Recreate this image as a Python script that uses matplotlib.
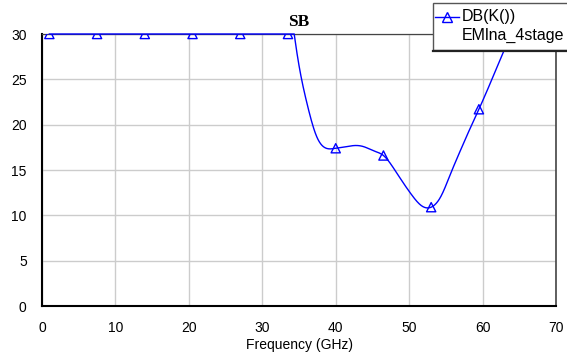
import numpy as np
import matplotlib

matplotlib.use("Agg")
import matplotlib.pyplot as plt  # noqa: E402
from matplotlib.patches import Rectangle  # noqa: E402
from matplotlib.lines import Line2D  # noqa: E402

# ---------- Data ----------
# Sweep 1..66 GHz in 1.3 GHz steps; a marker sits on every 5th point.
freq_ghz = np.round(np.arange(1.0, 66.01, 1.3), 2)
# Up to 33.5 GHz and above ~63 GHz the trace is off the 30 dB scale:
# those entries are estimates, the plot holds them at the 30 dB limit.
k_db = [
    45.0, 45.0, 45.0, 45.0, 45.0, 45.0, 45.0, 45.0, 45.0, 45.0,
    45.0, 45.0, 45.0, 45.0, 45.0, 45.0, 45.0, 45.0, 45.0, 45.0,
    45.0, 45.0, 45.0, 45.0, 45.0, 36.0, 27.5, 22.3, 18.7, 17.4,
    17.4, 17.55, 17.7, 17.55, 17.1, 16.6, 15.3, 13.7, 12.2, 11.05,
    10.9, 12.05, 14.5, 17.0, 19.4, 21.7, 24.1, 26.6, 29.1, 31.6,
    34.1,
]
MARKER_EVERY = 5
x_ticks = [0, 10, 20, 30, 40, 50, 60, 70]
y_ticks = [0, 5, 10, 15, 20, 25, 30]
legend_lines = ["DB(K())", "EMlna_4stage"]

# ---------- Style ----------
W, H = 567, 356
LINE_BLUE = "#0000ff"
GRID_COLOR = "#cccccc"
SANS = ["Liberation Sans", "DejaVu Sans"]
SERIF = ["Liberation Serif", "DejaVu Serif"]
Y_MAX = 30


def natural_spline(x, y, xs):
    """Natural cubic spline, used only to draw the smoothed trace."""
    x = np.asarray(x, float)
    y = np.asarray(y, float)
    n = len(x)
    h = np.diff(x)
    A = np.zeros((n, n))
    b = np.zeros(n)
    A[0, 0] = A[-1, -1] = 1.0
    for i in range(1, n - 1):
        A[i, i - 1] = h[i - 1]
        A[i, i] = 2 * (h[i - 1] + h[i])
        A[i, i + 1] = h[i]
        b[i] = 3 * ((y[i + 1] - y[i]) / h[i] - (y[i] - y[i - 1]) / h[i - 1])
    c = np.linalg.solve(A, b)
    bb = (y[1:] - y[:-1]) / h - h * (2 * c[:-1] + c[1:]) / 3
    d = (c[1:] - c[:-1]) / (3 * h)
    idx = np.clip(np.searchsorted(x, xs) - 1, 0, n - 2)
    dx = xs - x[idx]
    return y[idx] + bb[idx] * dx + c[idx] * dx ** 2 + d[idx] * dx ** 3


def fx(px):
    return px / W


def fy(py):
    return 1 - py / H


fig = plt.figure(figsize=(W / 100, H / 100), dpi=100)
fig.patch.set_facecolor("white")
ax = fig.add_axes([fx(42), fy(306), (556 - 42) / W, (306 - 34) / H])

# Smoothed trace, held at the plot boundary where it runs off scale.
xs = np.linspace(freq_ghz[0], freq_ghz[-1], 1500)
ys = np.clip(natural_spline(freq_ghz, k_db, xs), 0, Y_MAX)
ax.plot(xs, ys, color=LINE_BLUE, lw=1.0, clip_on=False, zorder=3)
mk_x = freq_ghz[::MARKER_EVERY]
mk_y = np.minimum(np.asarray(k_db)[::MARKER_EVERY], Y_MAX)
ax.scatter(mk_x, mk_y, s=44, marker="^", facecolors="none",
           edgecolors=LINE_BLUE, linewidths=1.0, zorder=4)

ax.set_xlim(0, 70)
ax.set_ylim(0, Y_MAX)
ax.set_xticks(x_ticks)
ax.set_yticks(y_ticks)
ax.tick_params(length=0, pad=11, labelsize=10)
for lab in ax.get_xticklabels() + ax.get_yticklabels():
    lab.set_family(SANS)
ax.grid(True, color=GRID_COLOR, lw=1.0)
ax.set_axisbelow(True)

for side in ("left", "bottom"):
    ax.spines[side].set_color("black")
    ax.spines[side].set_linewidth(1.5)
ax.spines["top"].set_color("#444444")
ax.spines["top"].set_linewidth(0.9)
ax.spines["right"].set_color("#444444")
ax.spines["right"].set_linewidth(1.2)

ax.set_xlabel("Frequency (GHz)", fontsize=10, family=SANS)
ax.xaxis.set_label_coords(0.5, -0.117)
ax.set_title("SB", fontsize=12.5, fontweight="bold", family=SERIF, pad=6)

# Legend box, hanging off the top-right corner like the reference.
fig.patches.append(Rectangle((fx(433), fy(50)), fx(200), 47 / H, transform=fig.transFigure,
                             facecolor="white", edgecolor="#555555", lw=1.0, zorder=5))
fig.lines.append(Line2D([fx(433), fx(600)], [fy(50.5), fy(50.5)], transform=fig.transFigure,
                        color="#222222", lw=1.6, zorder=6))
fig.lines.append(Line2D([fx(435), fx(459)], [fy(16.5), fy(16.5)], transform=fig.transFigure,
                        color=LINE_BLUE, lw=1.0, zorder=6))
fig.lines.append(Line2D([fx(447)], [fy(16.5)], transform=fig.transFigure, ls="none",
                        marker="^", ms=6.5, mfc="none", mec=LINE_BLUE, mew=1.0, zorder=6))
fig.text(fx(462), fy(16.5), legend_lines[0], fontsize=11.5, family=SANS,
         va="center", ha="left", zorder=7)
fig.text(fx(462), fy(35), legend_lines[1], fontsize=11.5, family=SANS,
         va="center", ha="left", zorder=7)

fig.savefig("out.png", dpi=100)
